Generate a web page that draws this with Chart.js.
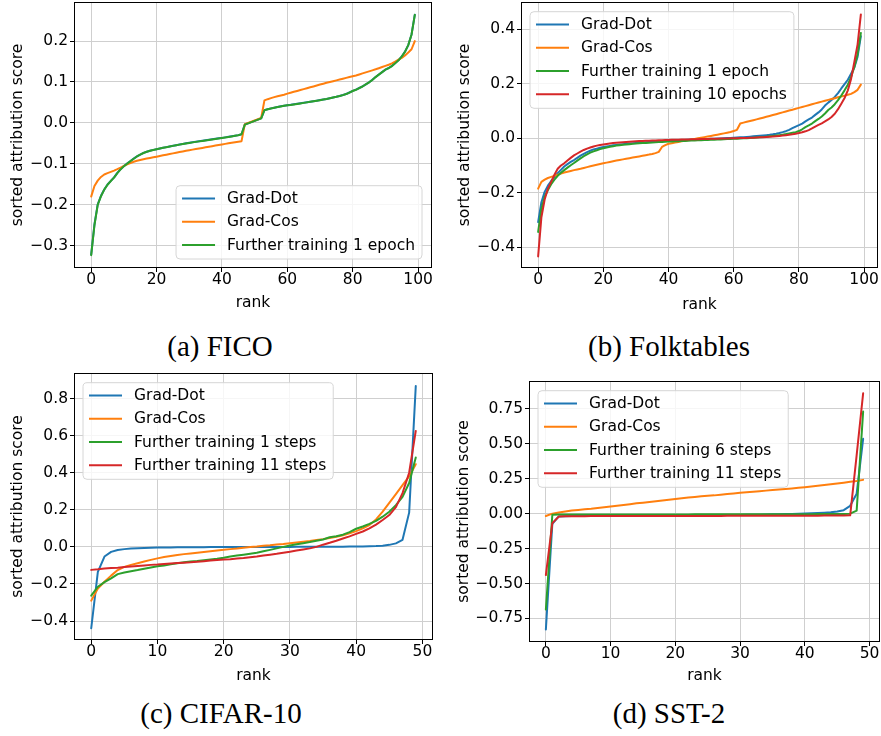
<!DOCTYPE html>
<html><head><meta charset="utf-8">
<script src="https://cdn.jsdelivr.net/npm/chart.js@4.4.1/dist/chart.umd.min.js"></script>
<style>
html,body{margin:0;padding:0;background:#fff;}
#wrap{position:relative;width:881px;height:736px;overflow:hidden;background:#fff;}
canvas{position:absolute;}
.cap{position:absolute;font-family:"Liberation Serif",serif;font-size:29px;color:#000;white-space:nowrap;text-align:center;width:300px;line-height:30px;}
</style></head><body>
<div id="wrap">
<canvas id="ca" width="440" height="320" style="left:0;top:0"></canvas>
<canvas id="cb" width="441" height="320" style="left:440px;top:0"></canvas>
<canvas id="cc" width="440" height="320" style="left:0;top:370px"></canvas>
<canvas id="cd" width="441" height="320" style="left:440px;top:370px"></canvas>
<div class="cap" style="left:70px;top:331px">(a) FICO</div>
<div class="cap" style="left:519px;top:331px">(b) Folktables</div>
<div class="cap" style="left:71px;top:698px">(c) CIFAR-10</div>
<div class="cap" style="left:519px;top:698px">(d) SST-2</div>
</div>
<script>
// ---------- categories ----------
const RANK100 = Array.from({length:100},(_,i)=>i);
const RANK50 = Array.from({length:50},(_,i)=>i);

// ---------- tick labels ----------
const X_TICKS_100 = [0,20,40,60,80,100];
const X_LABELS_100 = ['0','20','40','60','80','100'];
const X_TICKS_50 = [0,10,20,30,40,50];
const X_LABELS_50 = ['0','10','20','30','40','50'];
const A_Y_TICKS = [-0.3,-0.2,-0.1,0,0.1,0.2];
const A_Y_LABELS = ['\u22120.3','\u22120.2','\u22120.1','0.0','0.1','0.2'];
const B_Y_TICKS = [-0.4,-0.2,0,0.2,0.4];
const B_Y_LABELS = ['\u22120.4','\u22120.2','0.0','0.2','0.4'];
const C_Y_TICKS = [-0.4,-0.2,0,0.2,0.4,0.6,0.8];
const C_Y_LABELS = ['\u22120.4','\u22120.2','0.0','0.2','0.4','0.6','0.8'];
const D_Y_TICKS = [-0.75,-0.5,-0.25,0,0.25,0.5,0.75];
const D_Y_LABELS = ['\u22120.75','\u22120.50','\u22120.25','0.00','0.25','0.50','0.75'];

// ---------- (a) FICO ----------
const A_NAMES = ['Grad-Dot','Grad-Cos','Further training 1 epoch'];
const A_GRAD_DOT = [-0.322,-0.248,-0.199,-0.178,-0.1625,-0.1505,-0.1415,-0.133,-0.122,-0.113,
-0.1055,-0.099,-0.093,-0.0872,-0.0818,-0.0772,-0.0733,-0.0703,-0.0678,-0.0658,
-0.0641,-0.0624,-0.0607,-0.0591,-0.0575,-0.0559,-0.0543,-0.0528,-0.0513,-0.0499,
-0.0486,-0.0473,-0.0461,-0.0449,-0.0437,-0.0425,-0.0413,-0.0401,-0.0389,-0.0377,
-0.0365,-0.0353,-0.034,-0.0327,-0.0313,-0.0298,-0.0276,-0.0038,-0.0008,0.0021,
0.0051,0.0081,0.0111,0.0312,0.0335,0.0355,0.0373,0.039,0.0405,0.0419,
0.0432,0.0442,0.0454,0.0467,0.0479,0.0492,0.0504,0.0517,0.053,0.0544,
0.0558,0.0572,0.0587,0.0605,0.0622,0.064,0.066,0.0682,0.0707,0.0744,
0.0782,0.0813,0.0853,0.0893,0.0943,0.0993,0.1053,0.1122,0.1182,0.1242,
0.1302,0.1342,0.1392,0.1462,0.1532,0.1622,0.1742,0.1902,0.2162,0.2645];
const A_GRAD_COS = [-0.18,-0.154,-0.141,-0.132,-0.126,-0.1225,-0.1195,-0.1165,-0.113,-0.109,
-0.105,-0.1012,-0.0978,-0.0948,-0.0925,-0.0905,-0.0887,-0.087,-0.0855,-0.084,
-0.0824,-0.0808,-0.0792,-0.0776,-0.076,-0.0744,-0.0728,-0.0712,-0.0696,-0.068,
-0.0666,-0.0652,-0.0638,-0.0624,-0.061,-0.0596,-0.0582,-0.0568,-0.0554,-0.054,
-0.0526,-0.0512,-0.0498,-0.0484,-0.047,-0.0458,-0.0445,-0.003,0.0,0.003,
0.006,0.009,0.012,0.055,0.058,0.0605,0.063,0.065,0.067,0.069,
0.0715,0.0738,0.076,0.0782,0.0804,0.0826,0.0848,0.087,0.0892,0.0915,
0.0937,0.0958,0.098,0.1,0.102,0.104,0.106,0.108,0.11,0.112,
0.114,0.116,0.1185,0.121,0.1235,0.126,0.1285,0.131,0.1337,0.1365,
0.1393,0.1422,0.1455,0.15,0.1545,0.159,0.165,0.172,0.18,0.2];
const A_FT1 = [-0.323,-0.25,-0.2,-0.179,-0.163,-0.151,-0.142,-0.1335,-0.1225,-0.1135,
-0.106,-0.0995,-0.0935,-0.0875,-0.082,-0.0775,-0.0735,-0.0705,-0.068,-0.066,
-0.0643,-0.0626,-0.0609,-0.0593,-0.0577,-0.0561,-0.0545,-0.053,-0.0515,-0.0501,
-0.0488,-0.0475,-0.0463,-0.0451,-0.0439,-0.0427,-0.0415,-0.0403,-0.0391,-0.0379,
-0.0367,-0.0355,-0.0342,-0.0329,-0.0315,-0.03,-0.0278,-0.004,-0.001,0.002,
0.005,0.008,0.011,0.031,0.0333,0.0353,0.0371,0.0388,0.0403,0.0417,
0.043,0.044,0.0452,0.0465,0.0477,0.049,0.0502,0.0515,0.0528,0.0542,
0.0556,0.057,0.0585,0.0603,0.062,0.0638,0.0658,0.068,0.0705,0.0742,
0.078,0.081,0.085,0.089,0.094,0.099,0.105,0.112,0.118,0.124,
0.130,0.134,0.139,0.146,0.153,0.162,0.174,0.19,0.216,0.264];

// ---------- (b) Folktables ----------
const B_NAMES = ['Grad-Dot','Grad-Cos','Further training 1 epoch','Further training 10 epochs'];
const B_GRAD_DOT = [-0.308,-0.235,-0.197,-0.174,-0.157,-0.142,-0.128,-0.116,-0.104,-0.095,
-0.087,-0.08,-0.072,-0.064,-0.057,-0.051,-0.046,-0.041,-0.038,-0.035,
-0.032,-0.03,-0.028,-0.026,-0.0245,-0.023,-0.0217,-0.0205,-0.0194,-0.0183,
-0.0173,-0.0163,-0.0154,-0.0145,-0.0136,-0.0128,-0.012,-0.0112,-0.0105,-0.0098,
-0.0091,-0.0085,-0.0079,-0.0073,-0.0067,-0.0061,-0.0055,-0.005,-0.0045,-0.004,
-0.0035,-0.003,-0.0025,-0.002,-0.0015,-0.001,-0.0005,0.0,0.0006,0.0012,
0.0019,0.0026,0.0034,0.0042,0.0051,0.006,0.007,0.008,0.0092,0.0103,
0.0114,0.0127,0.0145,0.0168,0.0195,0.0225,0.026,0.031,0.037,0.043,
0.048,0.054,0.062,0.069,0.076,0.086,0.095,0.106,0.12,0.131,
0.141,0.152,0.166,0.183,0.199,0.215,0.237,0.26,0.3,0.375];
const B_GRAD_COS = [-0.185,-0.16,-0.152,-0.146,-0.142,-0.138,-0.134,-0.13,-0.126,-0.123,
-0.12,-0.117,-0.1145,-0.112,-0.109,-0.106,-0.103,-0.1,-0.097,-0.0945,
-0.092,-0.0895,-0.087,-0.0845,-0.082,-0.0798,-0.0776,-0.0754,-0.0732,-0.071,
-0.0688,-0.0666,-0.0644,-0.0622,-0.06,-0.0575,-0.0545,-0.05,-0.032,-0.025,
-0.02,-0.018,-0.0158,-0.0135,-0.0112,-0.009,-0.0068,-0.0046,-0.0024,-0.0002,
0.002,0.0042,0.0064,0.0086,0.0108,0.0131,0.0155,0.0179,0.0205,0.0233,
0.0265,0.031,0.054,0.0575,0.0605,0.0635,0.0665,0.0695,0.0725,0.0757,
0.0789,0.0821,0.0853,0.0885,0.0918,0.0951,0.0984,0.1017,0.105,0.1083,
0.1116,0.1149,0.1182,0.1215,0.1248,0.1281,0.1314,0.1347,0.138,0.1411,
0.1442,0.1473,0.1504,0.1535,0.1566,0.1597,0.163,0.1695,0.178,0.197];
const B_FT1 = [-0.344,-0.26,-0.215,-0.19,-0.169,-0.152,-0.138,-0.127,-0.117,-0.108,
-0.099,-0.091,-0.082,-0.074,-0.066,-0.059,-0.053,-0.048,-0.044,-0.04,
-0.037,-0.034,-0.031,-0.029,-0.027,-0.0255,-0.024,-0.0228,-0.0217,-0.0206,
-0.0196,-0.0187,-0.0178,-0.017,-0.0162,-0.0155,-0.0148,-0.0141,-0.0135,-0.0129,
-0.0123,-0.0117,-0.0111,-0.0106,-0.0101,-0.0096,-0.0091,-0.0086,-0.0081,-0.0076,
-0.0071,-0.0066,-0.0061,-0.0056,-0.0051,-0.0046,-0.0041,-0.0036,-0.0031,-0.0026,
-0.002,-0.0014,-0.0008,-0.0002,0.0005,0.0012,0.002,0.0029,0.0038,0.0048,
0.0059,0.0071,0.0084,0.0099,0.0115,0.0133,0.0153,0.0176,0.02,0.0226,
0.0265,0.033,0.041,0.047,0.054,0.063,0.071,0.08,0.091,0.104,
0.113,0.125,0.14,0.157,0.176,0.197,0.225,0.262,0.31,0.387];
const B_FT10 = [-0.434,-0.29,-0.225,-0.185,-0.16,-0.134,-0.112,-0.1,-0.092,-0.082,
-0.072,-0.063,-0.056,-0.049,-0.043,-0.038,-0.034,-0.03,-0.027,-0.0245,
-0.0225,-0.0207,-0.019,-0.0176,-0.0163,-0.0152,-0.0142,-0.0133,-0.0125,-0.0118,
-0.0111,-0.0105,-0.0099,-0.0094,-0.0089,-0.0084,-0.0079,-0.0075,-0.0071,-0.0067,
-0.0063,-0.0059,-0.0055,-0.0051,-0.0048,-0.0045,-0.0042,-0.0039,-0.0036,-0.0033,
-0.003,-0.0027,-0.0024,-0.0021,-0.0018,-0.0015,-0.0012,-0.0009,-0.0006,-0.0003,
0.0,0.0003,0.0006,0.001,0.0014,0.0018,0.0023,0.0028,0.0034,0.004,
0.0047,0.0055,0.0064,0.0074,0.0085,0.0098,0.0112,0.0128,0.0146,0.0167,
0.0192,0.022,0.0255,0.03,0.036,0.043,0.049,0.055,0.062,0.069,
0.078,0.09,0.107,0.127,0.148,0.176,0.218,0.28,0.345,0.455];

// ---------- (c) CIFAR-10 ----------
const C_NAMES = ['Grad-Dot','Grad-Cos','Further training 1 steps','Further training 11 steps'];
const C_GRAD_DOT = [-0.439,-0.135,-0.052,-0.027,-0.017,-0.012,-0.009,-0.007,-0.0055,-0.0045,
-0.0038,-0.0032,-0.0028,-0.0024,-0.0021,-0.0018,-0.0016,-0.0014,-0.0012,-0.001,
-0.0009,-0.0008,-0.0007,-0.0006,-0.0005,-0.0004,-0.0003,-0.0002,-0.0001,0.0,
0.0001,0.0002,0.0003,0.0004,0.0005,0.0006,0.0008,0.001,0.0012,0.0015,
0.0019,0.0024,0.0031,0.0045,0.0068,0.011,0.019,0.038,0.185,0.868];
const C_GRAD_COS = [-0.29,-0.225,-0.188,-0.155,-0.125,-0.108,-0.097,-0.088,-0.079,-0.07,
-0.062,-0.055,-0.049,-0.044,-0.039,-0.035,-0.031,-0.027,-0.023,-0.019,
-0.016,-0.012,-0.009,-0.005,-0.001,0.002,0.006,0.009,0.013,0.016,
0.02,0.024,0.028,0.032,0.037,0.042,0.048,0.055,0.063,0.073,
0.085,0.1,0.118,0.148,0.19,0.238,0.285,0.333,0.38,0.446];
const C_FT1 = [-0.263,-0.215,-0.19,-0.17,-0.147,-0.138,-0.131,-0.125,-0.118,-0.111,
-0.105,-0.1,-0.094,-0.088,-0.083,-0.079,-0.076,-0.072,-0.068,-0.064,
-0.059,-0.052,-0.047,-0.042,-0.037,-0.032,-0.024,-0.016,-0.008,0.0,
0.008,0.014,0.02,0.026,0.033,0.04,0.052,0.058,0.066,0.08,
0.098,0.11,0.124,0.14,0.163,0.19,0.225,0.27,0.345,0.482];
const C_FT11 = [-0.124,-0.121,-0.117,-0.114,-0.112,-0.109,-0.106,-0.103,-0.1,-0.097,
-0.095,-0.092,-0.089,-0.087,-0.085,-0.083,-0.08,-0.077,-0.074,-0.071,
-0.068,-0.066,-0.063,-0.06,-0.056,-0.052,-0.047,-0.042,-0.037,-0.031,
-0.026,-0.02,-0.014,-0.008,0.0,0.012,0.022,0.033,0.045,0.057,
0.07,0.083,0.1,0.12,0.145,0.172,0.215,0.29,0.4,0.626];

// ---------- (d) SST-2 ----------
const D_NAMES = ['Grad-Dot','Grad-Cos','Further training 6 steps','Further training 11 steps'];
const D_GRAD_DOT = [-0.83,-0.072,-0.02,-0.018,-0.017,-0.017,-0.016,-0.016,-0.016,-0.015,
-0.015,-0.015,-0.015,-0.014,-0.014,-0.014,-0.014,-0.013,-0.013,-0.013,
-0.013,-0.012,-0.012,-0.012,-0.011,-0.011,-0.011,-0.01,-0.01,-0.009,
-0.009,-0.008,-0.008,-0.007,-0.006,-0.005,-0.004,-0.003,-0.002,0.0,
0.002,0.003,0.005,0.007,0.01,0.015,0.025,0.056,0.143,0.536];
const D_GRAD_COS = [-0.017,0.0,0.008,0.015,0.022,0.027,0.031,0.035,0.041,0.046,
0.051,0.056,0.062,0.068,0.074,0.079,0.084,0.089,0.094,0.099,
0.105,0.11,0.115,0.12,0.125,0.129,0.131,0.136,0.141,0.145,
0.149,0.153,0.157,0.161,0.165,0.169,0.173,0.177,0.181,0.186,
0.19,0.195,0.2,0.205,0.21,0.216,0.222,0.228,0.234,0.242];
const D_FT6 = [-0.686,-0.008,-0.006,-0.006,-0.006,-0.006,-0.006,-0.0058,-0.0058,-0.0057,
-0.0057,-0.0056,-0.0056,-0.0055,-0.0055,-0.0054,-0.0054,-0.0053,-0.0053,-0.0052,
-0.0052,-0.0051,-0.0051,-0.005,-0.005,-0.0049,-0.0049,-0.0048,-0.0048,-0.0047,
-0.0046,-0.0046,-0.0045,-0.0044,-0.0043,-0.0042,-0.0041,-0.004,-0.0039,-0.0038,
-0.0036,-0.0034,-0.0032,-0.003,-0.0027,-0.0023,-0.0018,0.0,0.022,0.731];
const D_FT11 = [-0.44,-0.068,-0.02,-0.019,-0.018,-0.018,-0.018,-0.0175,-0.0175,-0.017,
-0.017,-0.017,-0.0168,-0.0168,-0.0166,-0.0166,-0.0165,-0.0165,-0.0164,-0.0164,
-0.0163,-0.0163,-0.0162,-0.0162,-0.0161,-0.016,-0.016,-0.0159,-0.0158,-0.0158,
-0.0157,-0.0156,-0.0155,-0.0154,-0.0153,-0.0152,-0.0151,-0.015,-0.0149,-0.0147,
-0.0145,-0.0143,-0.0141,-0.0139,-0.0136,-0.0132,-0.0127,-0.012,0.42,0.862];

const COLORS = ['#1f77b4','#ff7f0e','#2ca02c','#d62728'];
const FONT = {family:'"DejaVu Sans"', size:15.5};
const TICKFONT = {family:'"DejaVu Sans"', size:15.5, lineHeight:1.0};

const framePlugin = {
  id:'mplFrame',
  afterDatasetsDraw(chart){
    const o = chart.options.plugins.mplFrame;
    const {ctx, chartArea:a} = chart;
    ctx.save();
    ctx.strokeStyle = '#000'; ctx.lineWidth = 1;
    ctx.strokeRect(a.left-0.5, a.top-0.5, a.right-a.left+1, a.bottom-a.top+1);
    const names = chart.data.datasets.map(d=>d.label);
    const cols = chart.data.datasets.map(d=>d.borderColor);
    ctx.font = '15.5px "DejaVu Sans"';
    const tw = Math.max(...names.map(n=>ctx.measureText(n).width));
    const rowH = 23.3, padTop = 12.7, padBot = 14;
    const w = 6 + 33 + 12 + tw + 7;
    const h = padTop + (names.length-1)*rowH + padBot;
    let x0, y0;
    if (o.loc === 'lower right') { x0 = a.right - 9 - w; y0 = a.bottom - 8 - h; }
    else { x0 = a.left + 8; y0 = a.top + 8.7; }
    const r = 4;
    ctx.beginPath();
    ctx.moveTo(x0+r,y0); ctx.lineTo(x0+w-r,y0); ctx.arcTo(x0+w,y0,x0+w,y0+r,r);
    ctx.lineTo(x0+w,y0+h-r); ctx.arcTo(x0+w,y0+h,x0+w-r,y0+h,r);
    ctx.lineTo(x0+r,y0+h); ctx.arcTo(x0,y0+h,x0,y0+h-r,r);
    ctx.lineTo(x0,y0+r); ctx.arcTo(x0,y0,x0+r,y0,r); ctx.closePath();
    ctx.fillStyle = 'rgba(255,255,255,0.8)'; ctx.fill();
    ctx.strokeStyle = '#d6d6d6'; ctx.lineWidth = 1; ctx.stroke();
    ctx.textBaseline = 'middle'; ctx.textAlign = 'left';
    names.forEach((n,i)=>{
      const y = y0 + padTop + i*rowH;
      ctx.strokeStyle = cols[i]; ctx.lineWidth = 2;
      ctx.beginPath(); ctx.moveTo(x0+6,y); ctx.lineTo(x0+39,y); ctx.stroke();
      ctx.fillStyle = '#000'; ctx.fillText(n, x0+51, y+0.5);
    });
    ctx.restore();
  }
};

function panel(id, cfg){
  const datasets = cfg.series.map((vals,k)=>({
    label: cfg.names[k],
    data: vals.map((v,i)=>({x: cfg.ranks[i], y: v})),
    borderColor: COLORS[k], backgroundColor: COLORS[k],
    borderWidth: 2, pointRadius: 0, tension: 0, fill: false,
    borderJoinStyle:'round', borderCapStyle:'round', order: 10-k
  }));
  new Chart(document.getElementById(id), {
    type:'line',
    data:{datasets},
    plugins:[framePlugin],
    options:{
      responsive:false, animation:false, devicePixelRatio:1, events:[],
      layout:{padding:{left:0, top:cfg.padT, right:cfg.padR, bottom:0}},
      plugins:{legend:{display:false}, tooltip:{enabled:false}, mplFrame:{loc:cfg.loc}},
      scales:{
        x:{type:'linear', min:cfg.xMin, max:cfg.xMax,
          afterBuildTicks: s=>{ s.ticks = cfg.xTicks.map(v=>({value:v})); },
          afterFit: s=>{ s.height = cfg.xH; s.paddingLeft = 0; s.paddingRight = 0; },
          ticks:{autoSkip:false, maxRotation:0, minRotation:0, padding:0, color:'#000', font:TICKFONT,
                 callback:(v,i)=>cfg.xLabels[i]},
          grid:{color:'#cfcfcf', lineWidth:1, drawTicks:true, tickLength:5, tickColor:'#000', tickWidth:1},
          border:{display:false},
          title:{display:true, text:'rank', color:'#000', font:FONT, padding:{top:0,bottom:cfg.xTitlePad}}
        },
        y:{type:'linear', min:cfg.yMin, max:cfg.yMax,
          afterBuildTicks: s=>{ s.ticks = cfg.yTicks.map(v=>({value:v})); },
          afterFit: s=>{ s.width = cfg.yW; s.paddingTop = 0; s.paddingBottom = 0; },
          ticks:{autoSkip:false, padding:2, color:'#000', font:TICKFONT,
                 callback:(v,i)=>cfg.yLabels[i]},
          grid:{color:'#cfcfcf', lineWidth:1, drawTicks:true, tickLength:5, tickColor:'#000', tickWidth:1},
          border:{display:false},
          title:{display:true, text:'sorted attribution score', color:'#000', font:FONT, padding:{top:cfg.yTitlePad,bottom:0}}
        }
      }
    }
  });
}

panel('ca', {ranks:RANK100, names:A_NAMES, series:[A_GRAD_DOT,A_GRAD_COS,A_FT1],
  xMin:-4.95, xMax:103.95, yMin:-0.352, yMax:0.293,
  xTicks:X_TICKS_100, xLabels:X_LABELS_100, yTicks:A_Y_TICKS, yLabels:A_Y_LABELS,
  yW:75, xH:53, padT:3, padR:9, xTitlePad:7.7, yTitlePad:9, loc:'lower right'});
panel('cb', {ranks:RANK100, names:B_NAMES, series:[B_GRAD_DOT,B_GRAD_COS,B_FT1,B_FT10],
  xMin:-4.95, xMax:103.95, yMin:-0.473, yMax:0.497,
  xTicks:X_TICKS_100, xLabels:X_LABELS_100, yTicks:B_Y_TICKS, yLabels:B_Y_LABELS,
  yW:82, xH:53, padT:3, padR:4, xTitlePad:6, yTitlePad:15.7, loc:'upper left'});
panel('cc', {ranks:RANK50, names:C_NAMES, series:[C_GRAD_DOT,C_GRAD_COS,C_FT1,C_FT11],
  xMin:-2.45, xMax:51.45, yMin:-0.497, yMax:0.933,
  xTicks:X_TICKS_50, xLabels:X_LABELS_50, yTicks:C_Y_TICKS, yLabels:C_Y_LABELS,
  yW:75, xH:51, padT:4, padR:8, xTitlePad:4.7, yTitlePad:9, loc:'upper left'});
panel('cd', {ranks:RANK50, names:D_NAMES, series:[D_GRAD_DOT,D_GRAD_COS,D_FT6,D_FT11],
  xMin:-2.45, xMax:51.45, yMin:-0.912, yMax:0.943,
  xTicks:X_TICKS_50, xLabels:X_LABELS_50, yTicks:D_Y_TICKS, yLabels:D_Y_LABELS,
  yW:90, xH:49, padT:12, padR:2, xTitlePad:5, yTitlePad:14.7, loc:'upper left'});
</script>
</body></html>
